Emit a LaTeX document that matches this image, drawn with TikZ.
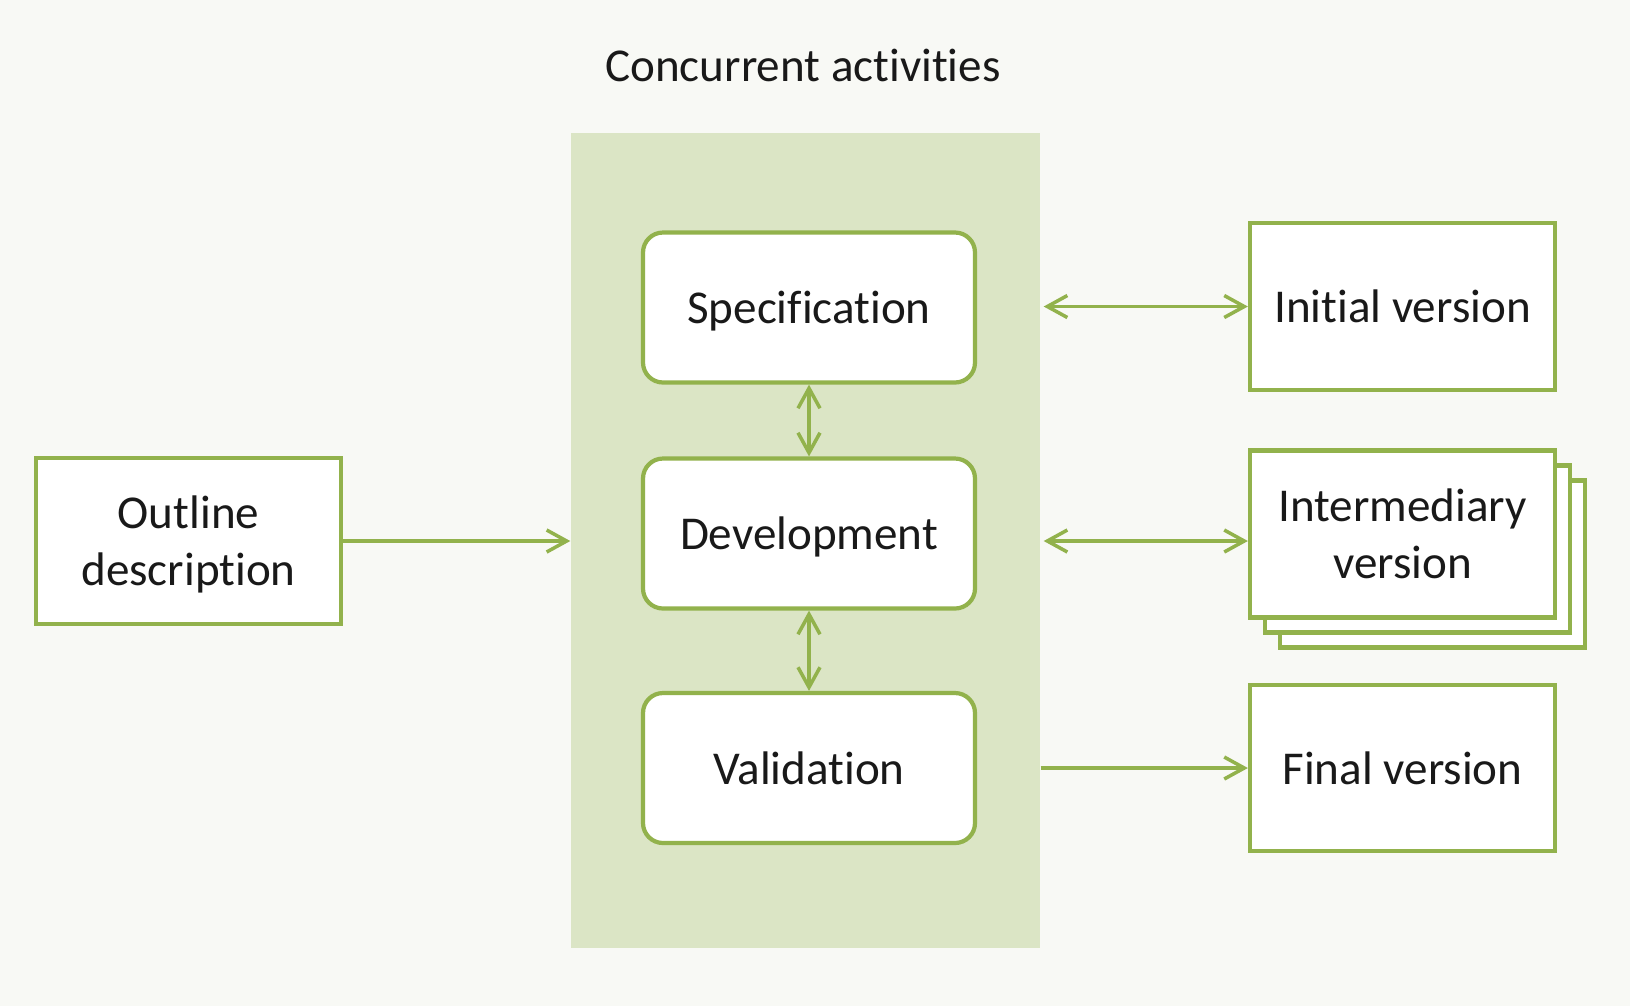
\documentclass[tikz,border=0pt]{standalone}
\usepackage{fontspec}
\setmainfont{Carlito}[Ligatures={NoCommon}]
\usepackage{xcolor}
\usetikzlibrary{arrows.meta}

\definecolor{leafgreen}{RGB}{146,178,76}
\definecolor{panelgreen}{RGB}{219,229,197}
\definecolor{pagebg}{RGB}{248,249,245}
\definecolor{inkgray}{RGB}{25,25,25}

\begin{document}
\begin{tikzpicture}[
		font=\fontsize{13.4}{16.2}\selectfont, text=inkgray,
		activity/.style={draw=leafgreen, line width=1.2pt, fill=white, rounded corners=0.2cm, minimum width=3.32cm, minimum height=1.5cm, align=center, text depth=0pt},
		version/.style={draw=leafgreen, line width=1.2pt, fill=white, minimum width=3.05cm, minimum height=1.67cm, align=center, text depth=0pt},
		link/.style={draw=leafgreen, line width=1pt, -{Straight Barb[length=2mm,width=2.2mm]}},
		twoway/.style={link, {Straight Barb[length=2mm,width=2.2mm]}-{Straight Barb[length=2mm,width=2.2mm]}}
	]
		\fill[pagebg] (0,0) rectangle (16.3,-10.06);
		\useasboundingbox (0,0) rectangle (16.3,-10.06);
		
		\coordinate (C) at (8.09,0);
		\coordinate (V) at (14.025,0);
		
		\node (title) at (8.03,-0.65) {Concurrent activities};
		
		%Panel
		\node[fill=panelgreen, minimum width=4.69cm, minimum height=8.15cm, inner sep=0pt] (panel) at (8.055,-5.405) {};
		
		\node[activity] (spec) at ([yshift=-3.075cm]C) {Specification};
		\node[activity] (dev) at ([yshift=-5.335cm]C) {Development};
		\node[activity] (val) at ([yshift=-7.68cm]C) {Validation};
		
		\node[version, minimum height=1.66cm] (outline) at (1.885,-5.41) {Outline\\description};
		
		%Versions
		\node[version] (init) at ([yshift=-3.065cm]V) {Initial version};
		\node[version] (inter3) at ([xshift=0.3cm, yshift=-5.64cm]V) {};
		\node[version] (inter2) at ([xshift=0.15cm, yshift=-5.49cm]V) {};
		\node[version] (inter) at ([yshift=-5.34cm]V) {Intermediary\\version};
		\node[version, minimum height=1.66cm] (final) at ([yshift=-7.68cm]V) {Final version};
		
		%Arrows
		\draw[link] (outline) -- (panel.west |- outline);
		\draw[twoway] (spec) -- (dev);
		\draw[twoway] (dev) -- (val);
		\draw[twoway] ([xshift=0.03cm]panel.east |- init) -- (init);
		\draw[twoway] ([xshift=0.03cm]panel.east |- outline) -- (inter.west |- outline);
		\draw[link] (panel.east |- final) -- (final);
		
\end{tikzpicture}
\end{document}
